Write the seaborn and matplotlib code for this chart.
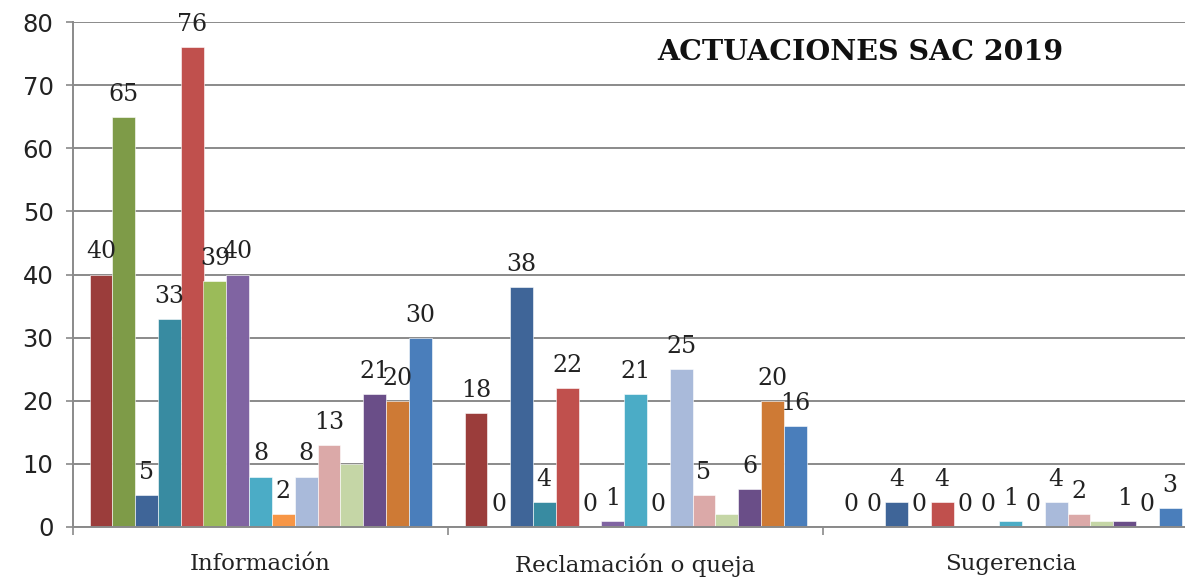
import matplotlib
matplotlib.use("Agg")
import matplotlib.pyplot as plt
import seaborn as sns
import pandas as pd
from matplotlib.ticker import FixedLocator

# Categories and the 15 series of actions recorded per category
categories = ["Información", "Reclamación o queja", "Sugerencia"]
series_ids = [f"S{i:02d}" for i in range(1, 16)]
informacion = [40, 65, 5, 33, 76, 39, 40, 8, 2, 8, 13, 10, 21, 20, 30]
reclamacion = [18, 0, 38, 4, 22, 0, 1, 21, 0, 25, 5, 2, 6, 20, 16]
sugerencia = [0, 0, 4, 0, 4, 0, 0, 1, 0, 4, 2, 1, 1, 0, 3]
y_ticks = [0, 10, 20, 30, 40, 50, 60, 70, 80]
title_text = "ACTUACIONES SAC 2019"
unlabeled_series = ["S12"]

colors = ["#9B3D3B", "#7E9B48", "#3F6598", "#388BA1", "#C0504D",
          "#9BBB59", "#8064A2", "#4BACC6", "#F79646", "#A9BADA",
          "#DBA9A8", "#C5D6A6", "#6A4E88", "#CE7A35", "#4A7EBB"]

rows = []
for cat, vals in zip(categories, [informacion, reclamacion, sugerencia]):
    for sid, v in zip(series_ids, vals):
        rows.append({"categoria": cat, "serie": sid, "valor": v})
df = pd.DataFrame(rows)

sns.set_style("white")
plt.rcParams["font.family"] = ["DejaVu Sans"]

fig = plt.figure(figsize=(11.85, 5.8), dpi=100)
ax = fig.add_axes([73 / 1185, 53 / 580, 1125 / 1185, 505 / 580])

sns.barplot(data=df, x="categoria", y="valor", hue="serie",
            order=categories, hue_order=series_ids, palette=colors,
            saturation=1, width=0.912, dodge=True, legend=False, ax=ax,
            edgecolor="white", linewidth=0.4, errorbar=None)

grid_c = "#8A8A8A"
ax.set_ylim(0, 80)
ax.set_xlim(-0.5, 2.5)
ax.yaxis.set_major_locator(FixedLocator(y_ticks))
ax.set_axisbelow(True)
ax.grid(axis="y", color=grid_c, linewidth=1.4)
ax.grid(axis="x", visible=False)

for side in ["top", "right"]:
    ax.spines[side].set_visible(False)
for side in ["left", "bottom"]:
    ax.spines[side].set_color(grid_c)
    ax.spines[side].set_linewidth(1.4)

ax.tick_params(axis="y", which="major", length=5, width=1.2, color=grid_c,
               labelsize=17.5, labelcolor="#222222", pad=9, left=True)
ax.set_yticklabels([str(t) for t in y_ticks], family="DejaVu Sans")

ax.set_xticks([0, 1, 2])
ax.set_xticklabels(categories, family="DejaVu Serif", fontsize=16.5,
                   color="#222222")
ax.tick_params(axis="x", which="major", length=0, pad=19)
ax.set_xticks([-0.5, 0.5, 1.5, 2.5], minor=True)
ax.tick_params(axis="x", which="minor", length=6, width=1.2, color=grid_c,
               bottom=True)
ax.set_xlabel("")
ax.set_ylabel("")

# Value labels above each bar
for sid, cont in zip(series_ids, ax.containers):
    if sid in unlabeled_series:
        continue
    ax.bar_label(cont, fmt="%d", padding=8, fontsize=17,
                 family="DejaVu Serif", color="#222222", clip_on=False)

fig.text(657 / 1185, 1 - 52 / 580, title_text, ha="left", va="center",
         fontsize=20.5, fontweight="bold", family="DejaVu Serif",
         color="#111111")

fig.savefig("out.png", dpi=100)
